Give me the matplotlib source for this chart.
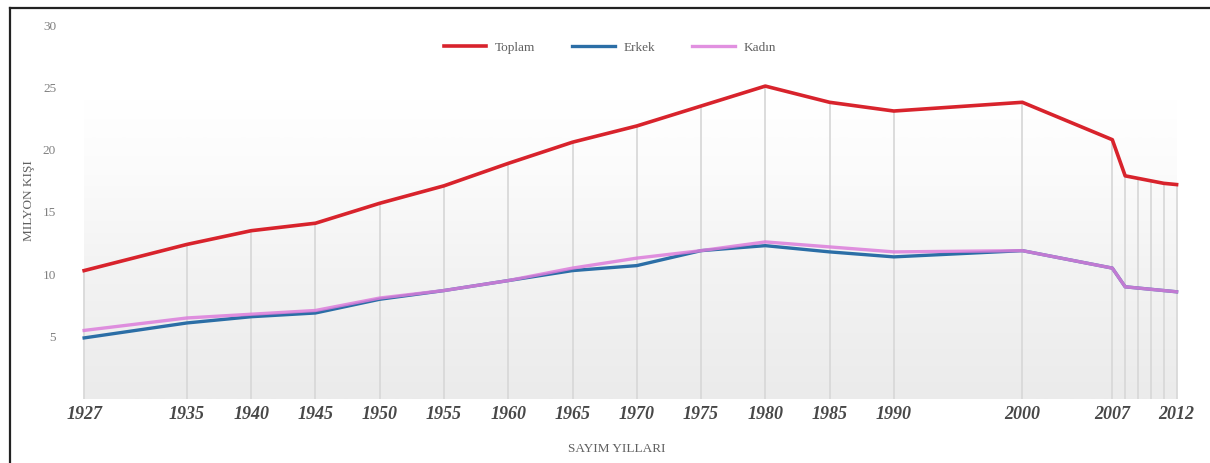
import numpy as np
import matplotlib
matplotlib.use("Agg")
import matplotlib.pyplot as plt
from matplotlib.colors import LinearSegmentedColormap
from matplotlib.lines import Line2D

years = [1927, 1935, 1940, 1945, 1950, 1955, 1960, 1965, 1970, 1975, 1980,
         1985, 1990, 2000, 2007, 2008, 2009, 2010, 2011, 2012]
toplam = [10.3, 12.4, 13.5, 14.1, 15.7, 17.1, 18.9, 20.6, 21.9, 23.5, 25.1,
          23.8, 23.1, 23.8, 20.8, 17.9, 17.7, 17.5, 17.3, 17.2]
erkek = [4.9, 6.1, 6.6, 6.9, 8.0, 8.7, 9.5, 10.3, 10.7, 11.9, 12.3,
         11.8, 11.4, 11.9, 10.5, 9.0, 8.9, 8.8, 8.7, 8.6]
kadin = [5.5, 6.5, 6.8, 7.1, 8.1, 8.7, 9.5, 10.5, 11.3, 11.9, 12.6,
         12.2, 11.8, 11.9, 10.5, 9.0, 8.9, 8.8, 8.7, 8.6]
tick_years = [1927, 1935, 1940, 1945, 1950, 1955, 1960, 1965, 1970, 1975,
              1980, 1985, 1990, 2000, 2007, 2012]
y_ticks = [5, 10, 15, 20, 25, 30]

serif = ["Liberation Serif", "DejaVu Serif"]
plt.rcParams["font.family"] = serif

W, H = 1210, 463
fig = plt.figure(figsize=(W / 100, H / 100), dpi=100)

left_px, right_px = 70, 1192
bottom_px, top_px = 399, 25
ax = fig.add_axes([left_px / W, (H - bottom_px) / H,
                   (right_px - left_px) / W, (bottom_px - top_px) / H])

# background gradient
cmap = LinearSegmentedColormap.from_list(
    "bg", [(0.0, "#ebebeb"), (0.35, "#f3f3f3"), (0.6, "#fbfbfb"),
           (0.8, "#ffffff"), (1.0, "#ffffff")])
grad = np.linspace(0, 1, 256).reshape(-1, 1)
ax.imshow(grad, extent=[1927, 2012, 0, 30], origin="lower", cmap=cmap,
          aspect="auto", zorder=0, vmin=0, vmax=1)
ax.set_xlim(1925.9, 2013.2)
ax.set_ylim(0, 30)

# drop lines
ax.vlines(years, 0, toplam, colors="#d9d9d9", linewidth=1.3, zorder=1)

ax.plot(years, erkek, color="#2b6ea6", linewidth=2.4, label="Erkek", zorder=3,
        solid_joinstyle="round")
ax.plot(years, kadin, color="#dc7ddb", linewidth=2.4, label="Kadın", zorder=4,
        alpha=0.85, solid_joinstyle="round")
ax.plot(years, toplam, color="#d8232c", linewidth=2.6, label="Toplam", zorder=5,
        solid_joinstyle="round")

for s in ax.spines.values():
    s.set_visible(False)

ax.set_yticks(y_ticks)
ax.set_yticklabels([str(v) for v in y_ticks])
ax.tick_params(axis="y", length=0, pad=10, labelsize=9.5, labelcolor="#808080")
ax.set_xticks(tick_years)
ax.set_xticklabels([str(v) for v in tick_years])
ax.tick_params(axis="x", length=0, pad=5, labelsize=13, labelcolor="#484848")
for lab in ax.get_xticklabels():
    lab.set_fontstyle("italic")
    lab.set_fontweight("bold")

ax.set_ylabel("MILYON KIŞI", fontsize=9.5, color="#606060", labelpad=2)
ax.yaxis.set_label_coords(-0.031, 0.53)
fig.text(617 / W, (H - 449) / H, "SAYIM YILLARI", ha="center", va="center",
         fontsize=9.5, color="#606060")

handles, labels = ax.get_legend_handles_labels()
order = [2, 0, 1]
leg = fig.legend([handles[i] for i in order], [labels[i] for i in order],
                 loc="center", bbox_to_anchor=(610 / W, (H - 48) / H), ncol=3,
                 frameon=False, fontsize=9.5, handlelength=3.2,
                 handletextpad=0.7, columnspacing=2.8)
for t in leg.get_texts():
    t.set_color("#606060")

# frame lines (top and left)
fig.add_artist(Line2D([10 / W, 1.0], [(H - 8) / H, (H - 8) / H],
                      transform=fig.transFigure, color="#222222", linewidth=1.6))
fig.add_artist(Line2D([10 / W, 10 / W], [0, (H - 8) / H],
                      transform=fig.transFigure, color="#222222", linewidth=1.6))

fig.savefig("out.png", dpi=100)
